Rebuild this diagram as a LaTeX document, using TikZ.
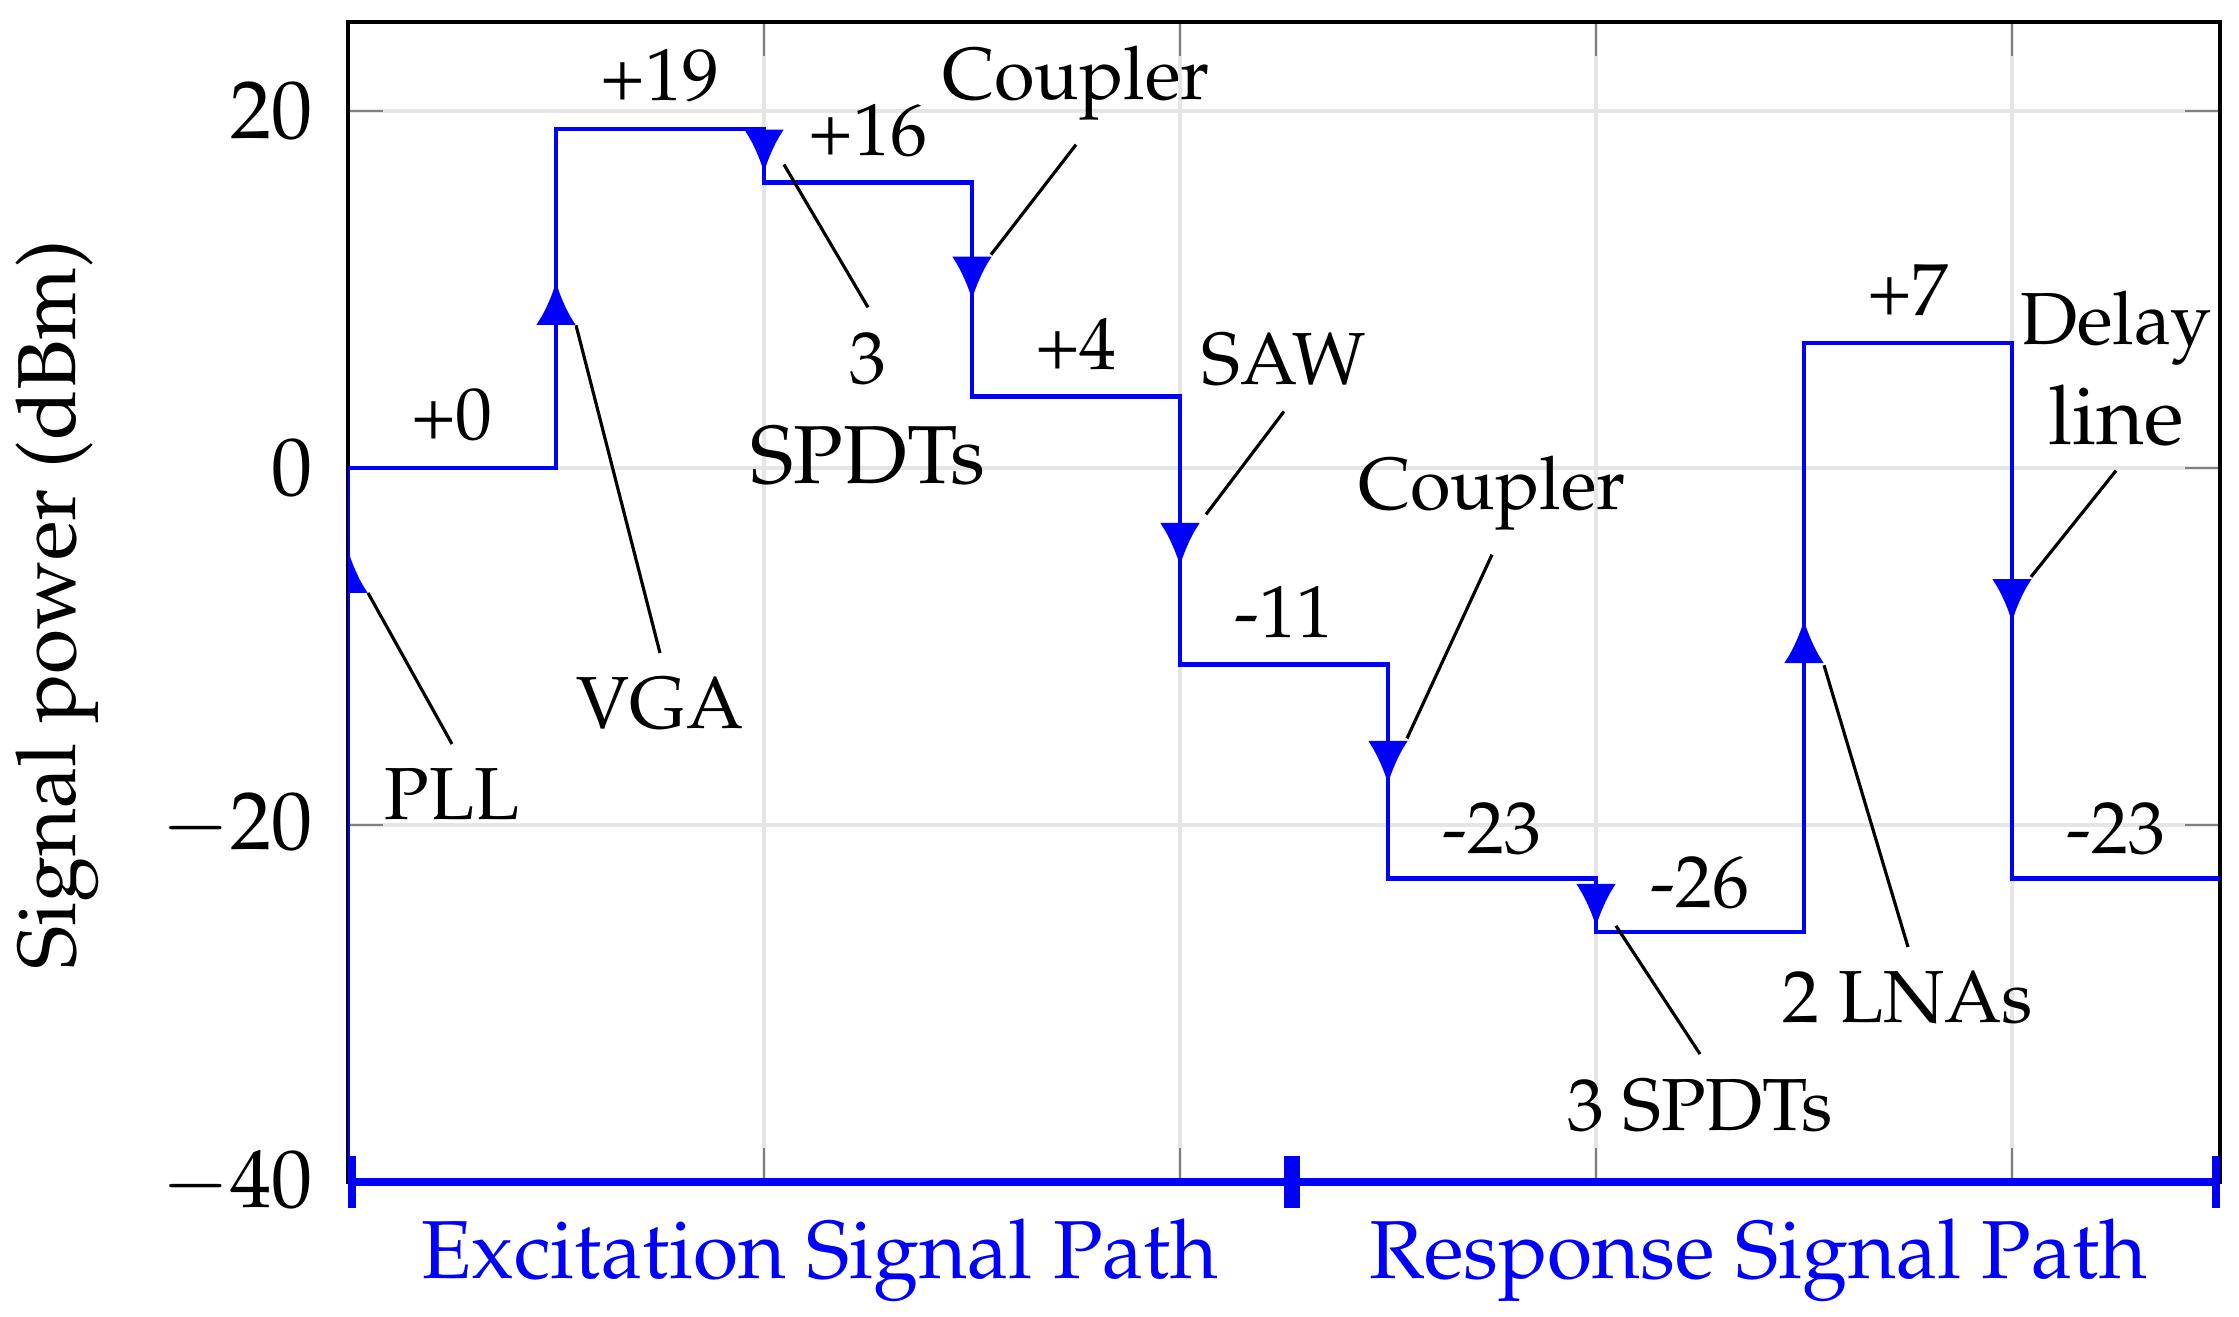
\documentclass[tikz,border=0pt]{standalone}
\usepackage[T1]{fontenc}
\usepackage{mathpazo}
\usepackage{tikz}
\usetikzlibrary{arrows.meta}
\usepackage{xcolor}
\usepackage{amsmath}

\begin{document}
\begin{tikzpicture}[x=1.04cm, y=0.08925cm,
    gridline/.style={gray!20, line width=0.7pt},
    axistick/.style={black!50, line width=0.4pt},
    signal/.style={blue, line width=0.66pt},
    marker/.style={blue, line width=0.66pt, -{Latex[length=0.215cm, width=0.2cm]}},
    leader/.style={black, line width=0.45pt},
    note/.style={font=\fontsize{10.5}{14.2}\selectfont, align=center},
    ticklabel/.style={font=\fontsize{11.7}{14}\selectfont, anchor=east, inner sep=0pt},
    pathlabel/.style={font=\fontsize{11.7}{14}\selectfont, text=blue, anchor=base},
    pathbar/.style={blue, line width=1.15pt, {Bar[width=0.26cm]}-{Bar[width=0.26cm]}}]
  \useasboundingbox (-1.74cm,-4.245cm) rectangle (9.455cm,2.34cm);
  % Grid
  \foreach \gx in {2,4,6,8} \draw[gridline] (\gx,-40) -- (\gx,25);
  \foreach \gy in {-20,0,20} \draw[gridline] (0,\gy) -- (9,\gy);
  % Ticks
  \foreach \gx in {2,4,6,8} {
    \draw[axistick] (\gx,-40) -- ++(0,0.17cm);
    \draw[axistick] (\gx,25) -- ++(0,-0.17cm);
  }
  \foreach \gy in {-20,0,20} {
    \draw[axistick] (0,\gy) -- ++(0.175cm,0);
    \draw[axistick] (9,\gy) -- ++(-0.175cm,0);
  }
  \draw[line width=0.5pt] (0,-40) rectangle (9,25);
  \foreach \gy in {-40,-20,0,20}
    \node[ticklabel] (tick\gy) at ([xshift=-0.17cm]0,\gy) {$\gy$};
  \node[font=\fontsize{11.7}{14}\selectfont, rotate=90, anchor=base] (ylab) at ([xshift=-1.365cm]0,-7.67) {Signal power (dBm)};
  % Signal level
  \begin{scope}
    \clip (0,-40) rectangle (9,25);
    \draw[signal] (0,-40) -- (0,0) -- (1,0) -- (1,19) -- (2,19) -- (2,16) -- (3,16) -- (3,4) -- (4,4)
      -- (4,-11) -- (5,-11) -- (5,-23) -- (6,-23) -- (6,-26) -- (7,-26) -- (7,7) -- (8,7) -- (8,-23) -- (9,-23);
    \foreach \mx/\mb/\mt in {0/-7.06/-4.59, 1/8.01/10.42, 2/18.91/16.55, 3/11.9/9.43, 4/-3.14/-5.49,
        5/-15.17/-17.7, 6/-23.18/-25.71, 7/-11.04/-8.52, 8/-6.1/-8.63}
      \draw[marker] (\mx,\mb) -- (\mx,\mt);
  \end{scope}
  % Levels
  \node[note, anchor=base] (lvl0) at (0.5,1.57) {+0};
  \node[note, anchor=base] (lvl1) at (1.5,20.56) {+19};
  \node[note, anchor=base] (lvl2) at (2.5,17.5) {+16};
  \node[note, anchor=base] (lvl3) at (3.5,5.49) {+4};
  \node[note, anchor=base] (lvl4) at (4.5,-9.5) {-11};
  \node[note, anchor=base] (lvl5) at (5.5,-21.62) {-23};
  \node[note, anchor=base] (lvl6) at (6.5,-24.65) {-26};
  \node[note, anchor=base] (lvl7) at (7.5,8.53) {+7};
  \node[note, anchor=base] (lvl8) at (8.5,-21.62) {-23};
  % Components
  \node[note, anchor=base] (pll) at (0.5,-19.72) {PLL};
  \node[note, anchor=base] (vga) at (1.5,-14.62) {VGA};
  \node[note, anchor=north] (spdta) at (2.5,9.0) {3\\\fontsize{11.7}{14.2}\selectfont SPDTs};
  \node[note, anchor=base] (cpla) at (3.5,20.67) {Coupler};
  \node[note, anchor=base] (saw) at (4.5,4.65) {SAW};
  \node[note, anchor=base] (cplb) at (5.5,-2.3) {Coupler};
  \node[note, anchor=base] (spdtb) at (6.5,-37.09) {3 SPDTs};
  \node[note, anchor=base] (lna) at (7.5,-31.09) {2 LNAs};
  \node[note, anchor=south] (dly) at (8.5,-0.15) {Delay\\\fontsize{11.7}{14.2}\selectfont line};
  % Pins
  \coordinate (pllpin) at ([xshift=0.1cm]0,-7.0);
  \coordinate (vgapin) at ([xshift=0.1cm]1,8.0);
  \coordinate (spdtapin) at ([xshift=0.1cm]2,17.0);
  \coordinate (cplapin) at ([xshift=0.095cm]3,11.95);
  \coordinate (sawpin) at ([xshift=0.13cm]4,-2.6);
  \coordinate (cplbpin) at ([xshift=0.095cm]5,-15.15);
  \coordinate (spdtbpin) at ([xshift=0.1cm]6,-25.65);
  \coordinate (lnapin) at ([xshift=0.1cm]7,-11.05);
  \coordinate (dlypin) at ([xshift=0.095cm]8,-6.1);
  \draw[leader] (pllpin) -- (pll.north);
  \draw[leader] (vgapin) -- (vga.north);
  \draw[leader] (spdtapin) -- (spdta.north);
  \draw[leader] (cplapin) -- (cpla.south);
  \draw[leader] (sawpin) -- (saw.south);
  \draw[leader] (cplbpin) -- (cplb.south);
  \draw[leader] (spdtbpin) -- (spdtb.north);
  \draw[leader] (lnapin) -- (lna.north);
  \draw[leader] (dlypin) -- (dly.south);
  % Paths
  \coordinate (exbeg) at (0,-40);
  \coordinate (split) at (4.54,-40);
  \coordinate (rsend) at (9,-40);
  \draw[pathbar] (exbeg) -- (split);
  \draw[pathbar] (split) -- (rsend);
  \node[pathlabel] (exc) at (2.27,-45.42) {Excitation Signal Path};
  \node[pathlabel] (rsp) at (6.78,-45.42) {Response Signal Path};
\end{tikzpicture}
\end{document}
